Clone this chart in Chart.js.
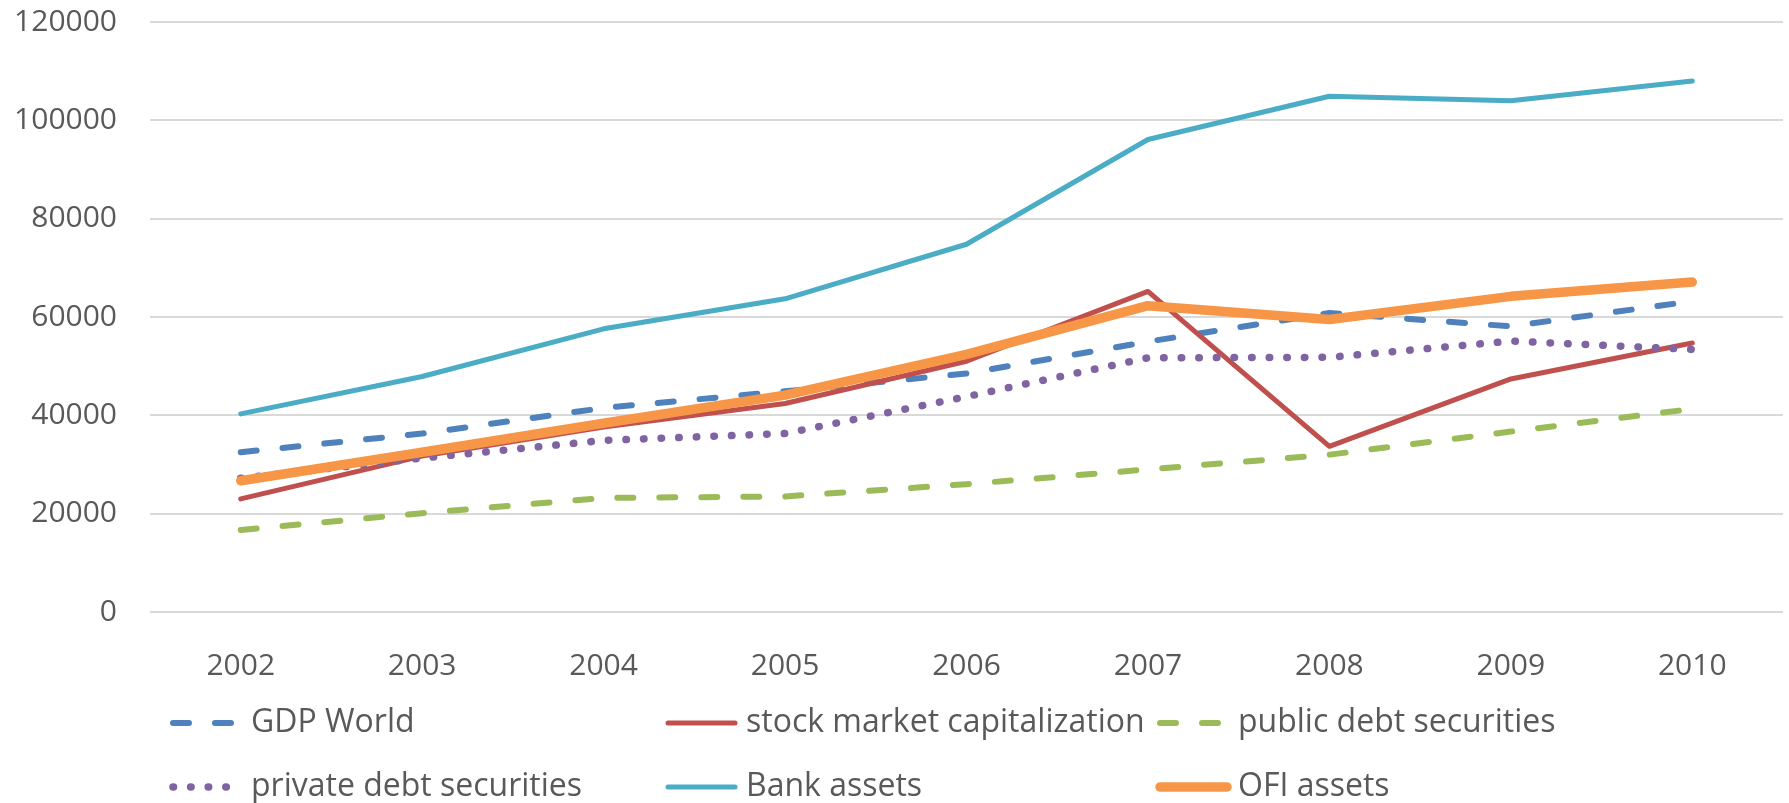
<!DOCTYPE html>
<html>
<head>
<meta charset="utf-8">
<script src="https://cdn.jsdelivr.net/npm/chart.js@4"></script>
<style>
    html, body { margin: 0; padding: 0; background: #fff; }
    #wrap { width: 1789px; height: 803px; position: relative; }
</style>
</head>
<body>
<div id="wrap"><canvas id="chart"></canvas></div>
<script>
// data
const years = ['2002', '2003', '2004', '2005', '2006', '2007', '2008', '2009', '2010'];
const gdpWorld = [32500, 36300, 41500, 44900, 48500, 55000, 60800, 58100, 63200];
const stockMarketCap = [23000, 31700, 37600, 42400, 51000, 65200, 33700, 47400, 54700];
const publicDebt = [16700, 20100, 23200, 23500, 26000, 29000, 32000, 36700, 41300];
const privateDebt = [27200, 31300, 34900, 36300, 43800, 51700, 51800, 55100, 53400];
const bankAssets = [40300, 47900, 57600, 63700, 74800, 96100, 104900, 104000, 108000];
const ofiAssets = [26700, 32500, 38400, 44100, 52400, 62300, 59500, 64200, 67100];
const yTicks = [0, 20000, 40000, 60000, 80000, 100000, 120000];

const textColor = '#595959';
const fontFamily = '"Open Sans", "Noto Sans", sans-serif';

function series(label, data, color, width, dash, order) {
    return {
        label: label,
        data: data,
        borderColor: color,
        backgroundColor: color,
        borderWidth: width,
        borderDash: dash,
        borderCapStyle: 'round',
        borderJoinStyle: 'round',
        pointRadius: 0,
        pointHoverRadius: 0,
        tension: 0,
        fill: false,
        order: order
    };
}

const datasets = [
    series('GDP World', gdpWorld, '#4F81BD', 6, [16, 26], 5),
    series('stock market capitalization', stockMarketCap, '#C0504D', 5, [], 4),
    series('public debt securities', publicDebt, '#9BBB59', 6, [16, 26], 3),
    series('private debt securities', privateDebt, '#8064A2', 7.5, [0.5, 17.1], 2),
    series('Bank assets', bankAssets, '#4BACC6', 5, [], 1),
    series('OFI assets', ofiAssets, '#F79646', 9.5, [], 0)
];

// legend drawn as a 3 x 2 grid like the original
const legendCols = [173, 668, 1160];
const legendRows = [723, 787];
const legendLineLen = 67;
const legendTextGap = 78;

const gridLegend = {
    id: 'gridLegend',
    afterDraw(chart) {
        const ctx = chart.ctx;
        chart.data.datasets.forEach((ds, i) => {
            const x = legendCols[i % 3];
            const y = legendRows[Math.floor(i / 3)];
            ctx.save();
            ctx.strokeStyle = ds.borderColor;
            ctx.lineWidth = ds.borderWidth;
            ctx.lineCap = 'round';
            ctx.setLineDash(ds.borderDash);
            ctx.beginPath();
            ctx.moveTo(x, y);
            ctx.lineTo(x + legendLineLen, y);
            ctx.stroke();
            ctx.setLineDash([]);
            ctx.fillStyle = textColor;
            ctx.font = '32px ' + fontFamily;
            ctx.textBaseline = 'middle';
            ctx.textAlign = 'left';
            ctx.fillText(ds.label, x + legendTextGap, y);
            ctx.restore();
        });
    }
};

new Chart(document.getElementById('chart'), {
    type: 'line',
    data: { labels: years, datasets: datasets },
    options: {
        responsive: true,
        maintainAspectRatio: false,
        animation: false,
        layout: { padding: { top: 22, right: 6, bottom: 121, left: 0 } },
        plugins: {
            legend: { display: false },
            tooltip: { enabled: false },
            title: { display: false }
        },
        scales: {
            x: {
                offset: true,
                grid: { display: false },
                border: { display: false },
                ticks: {
                    color: textColor,
                    font: { family: fontFamily, size: 30 },
                    padding: 28,
                    maxRotation: 0
                },
                afterFit(scale) {
                    scale.height = 70;
                    scale.paddingLeft = 0;
                    scale.paddingRight = 0;
                }
            },
            y: {
                min: 0,
                max: 120000,
                afterBuildTicks(scale) {
                    scale.ticks = yTicks.map(v => ({ value: v }));
                },
                grid: { color: '#d9d9d9', lineWidth: 2, drawTicks: false },
                border: { display: false },
                ticks: {
                    color: textColor,
                    font: { family: fontFamily, size: 30 },
                    padding: 33,
                    callback: v => String(v)
                },
                afterFit(scale) {
                    scale.width = 150;
                    scale.paddingTop = 0;
                    scale.paddingBottom = 0;
                }
            }
        }
    },
    plugins: [gridLegend]
});
</script>
</body>
</html>
